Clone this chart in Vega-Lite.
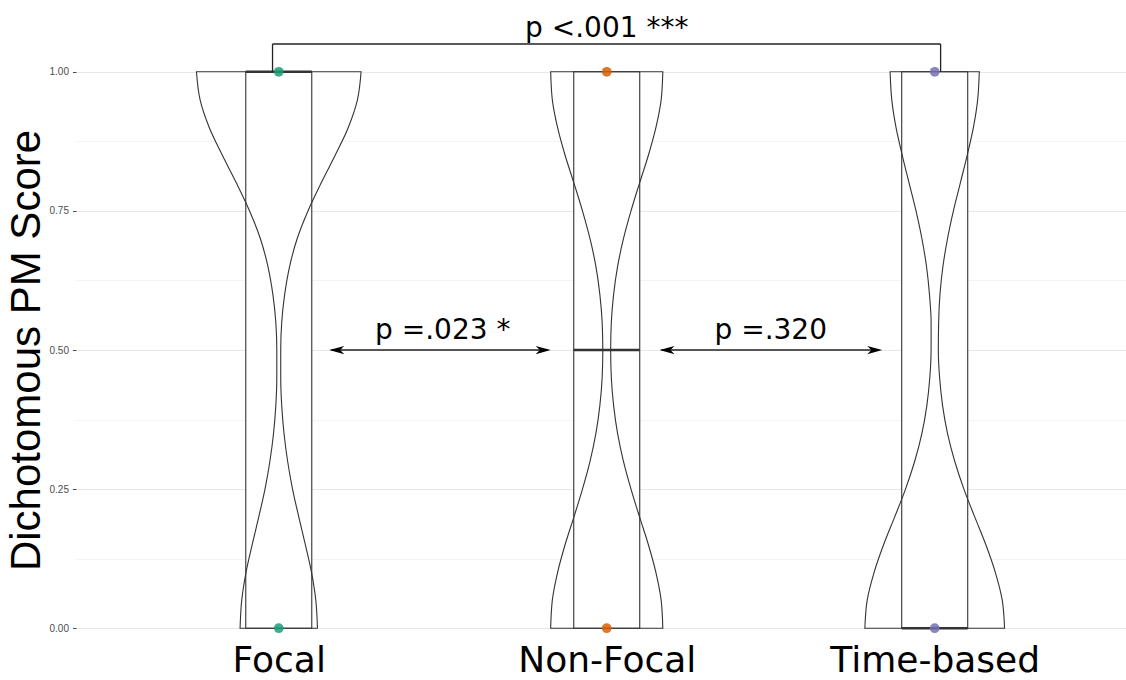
{
  "$schema": "https://vega.github.io/schema/vega-lite/v6.json",
  "width": 1050,
  "height": 612,
  "autosize": {"type": "none"},
  "padding": {"left": 76, "top": 44, "right": 0, "bottom": 24},
  "background": "white",
  "config": {"view": {"stroke": null}},
  "datasets": {
    "violin": [
      {"g": "Focal", "y": 0.00, "lo": 0.882, "hi": 1.118},
      {"g": "Focal", "y": 0.05, "lo": 0.887, "hi": 1.113},
      {"g": "Focal", "y": 0.10, "lo": 0.900, "hi": 1.100},
      {"g": "Focal", "y": 0.15, "lo": 0.919, "hi": 1.081},
      {"g": "Focal", "y": 0.20, "lo": 0.939, "hi": 1.061},
      {"g": "Focal", "y": 0.25, "lo": 0.958, "hi": 1.042},
      {"g": "Focal", "y": 0.30, "lo": 0.973, "hi": 1.027},
      {"g": "Focal", "y": 0.35, "lo": 0.984, "hi": 1.016},
      {"g": "Focal", "y": 0.40, "lo": 0.991, "hi": 1.009},
      {"g": "Focal", "y": 0.45, "lo": 0.994, "hi": 1.006},
      {"g": "Focal", "y": 0.50, "lo": 0.994, "hi": 1.006},
      {"g": "Focal", "y": 0.55, "lo": 0.991, "hi": 1.009},
      {"g": "Focal", "y": 0.60, "lo": 0.982, "hi": 1.018},
      {"g": "Focal", "y": 0.65, "lo": 0.967, "hi": 1.033},
      {"g": "Focal", "y": 0.70, "lo": 0.944, "hi": 1.056},
      {"g": "Focal", "y": 0.75, "lo": 0.911, "hi": 1.089},
      {"g": "Focal", "y": 0.80, "lo": 0.871, "hi": 1.129},
      {"g": "Focal", "y": 0.85, "lo": 0.828, "hi": 1.172},
      {"g": "Focal", "y": 0.90, "lo": 0.788, "hi": 1.212},
      {"g": "Focal", "y": 0.95, "lo": 0.760, "hi": 1.240},
      {"g": "Focal", "y": 1.00, "lo": 0.749, "hi": 1.251},
      {"g": "Non-Focal", "y": 0.00, "lo": 1.829, "hi": 2.171},
      {"g": "Non-Focal", "y": 0.05, "lo": 1.834, "hi": 2.166},
      {"g": "Non-Focal", "y": 0.10, "lo": 1.850, "hi": 2.150},
      {"g": "Non-Focal", "y": 0.15, "lo": 1.873, "hi": 2.127},
      {"g": "Non-Focal", "y": 0.20, "lo": 1.900, "hi": 2.100},
      {"g": "Non-Focal", "y": 0.25, "lo": 1.926, "hi": 2.074},
      {"g": "Non-Focal", "y": 0.30, "lo": 1.949, "hi": 2.051},
      {"g": "Non-Focal", "y": 0.35, "lo": 1.967, "hi": 2.033},
      {"g": "Non-Focal", "y": 0.40, "lo": 1.979, "hi": 2.021},
      {"g": "Non-Focal", "y": 0.45, "lo": 1.986, "hi": 2.014},
      {"g": "Non-Focal", "y": 0.50, "lo": 1.988, "hi": 2.012},
      {"g": "Non-Focal", "y": 0.55, "lo": 1.986, "hi": 2.014},
      {"g": "Non-Focal", "y": 0.60, "lo": 1.979, "hi": 2.021},
      {"g": "Non-Focal", "y": 0.65, "lo": 1.967, "hi": 2.033},
      {"g": "Non-Focal", "y": 0.70, "lo": 1.949, "hi": 2.051},
      {"g": "Non-Focal", "y": 0.75, "lo": 1.926, "hi": 2.074},
      {"g": "Non-Focal", "y": 0.80, "lo": 1.900, "hi": 2.100},
      {"g": "Non-Focal", "y": 0.85, "lo": 1.873, "hi": 2.127},
      {"g": "Non-Focal", "y": 0.90, "lo": 1.850, "hi": 2.150},
      {"g": "Non-Focal", "y": 0.95, "lo": 1.834, "hi": 2.166},
      {"g": "Non-Focal", "y": 1.00, "lo": 1.829, "hi": 2.171},
      {"g": "Time-based", "y": 0.00, "lo": 2.787, "hi": 3.213},
      {"g": "Time-based", "y": 0.05, "lo": 2.794, "hi": 3.206},
      {"g": "Time-based", "y": 0.10, "lo": 2.815, "hi": 3.185},
      {"g": "Time-based", "y": 0.15, "lo": 2.844, "hi": 3.156},
      {"g": "Time-based", "y": 0.20, "lo": 2.878, "hi": 3.122},
      {"g": "Time-based", "y": 0.25, "lo": 2.911, "hi": 3.089},
      {"g": "Time-based", "y": 0.30, "lo": 2.939, "hi": 3.061},
      {"g": "Time-based", "y": 0.35, "lo": 2.961, "hi": 3.039},
      {"g": "Time-based", "y": 0.40, "lo": 2.976, "hi": 3.024},
      {"g": "Time-based", "y": 0.45, "lo": 2.985, "hi": 3.015},
      {"g": "Time-based", "y": 0.50, "lo": 2.989, "hi": 3.011},
      {"g": "Time-based", "y": 0.55, "lo": 2.989, "hi": 3.012},
      {"g": "Time-based", "y": 0.60, "lo": 2.984, "hi": 3.016},
      {"g": "Time-based", "y": 0.65, "lo": 2.975, "hi": 3.025},
      {"g": "Time-based", "y": 0.70, "lo": 2.961, "hi": 3.039},
      {"g": "Time-based", "y": 0.75, "lo": 2.943, "hi": 3.057},
      {"g": "Time-based", "y": 0.80, "lo": 2.922, "hi": 3.078},
      {"g": "Time-based", "y": 0.85, "lo": 2.901, "hi": 3.099},
      {"g": "Time-based", "y": 0.90, "lo": 2.882, "hi": 3.118},
      {"g": "Time-based", "y": 0.95, "lo": 2.869, "hi": 3.131},
      {"g": "Time-based", "y": 1.00, "lo": 2.864, "hi": 3.136}
    ],
    "box": [
      {"g": "Focal", "pos": 1, "q1": 0, "q3": 1, "med": 1},
      {"g": "Non-Focal", "pos": 2, "q1": 0, "q3": 1, "med": 0.5},
      {"g": "Time-based", "pos": 3, "q1": 0, "q3": 1, "med": 0}
    ],
    "dots": [
      {"g": "Focal", "pos": 1, "score": 0},
      {"g": "Focal", "pos": 1, "score": 1},
      {"g": "Non-Focal", "pos": 2, "score": 0},
      {"g": "Non-Focal", "pos": 2, "score": 1},
      {"g": "Time-based", "pos": 3, "score": 0},
      {"g": "Time-based", "pos": 3, "score": 1}
    ],
    "rules": [
      {"x": 0.981, "x2": 3.018, "y": 1.05, "y2": 1.05},
      {"x": 0.981, "x2": 0.981, "y": 1.0, "y2": 1.05},
      {"x": 3.018, "x2": 3.018, "y": 1.0, "y2": 1.05},
      {"x": 1.16, "x2": 1.82, "y": 0.5, "y2": 0.5},
      {"x": 2.167, "x2": 2.83, "y": 0.5, "y2": 0.5}
    ],
    "heads": [
      {"x": 1.154, "y": 0.5, "dir": "L"},
      {"x": 1.829, "y": 0.5, "dir": "R"},
      {"x": 2.161, "y": 0.5, "dir": "L"},
      {"x": 2.84, "y": 0.5, "dir": "R"}
    ],
    "notes": [
      {"label": "p <.001 ***", "x": 2.0, "y": 1.062},
      {"label": "p =.023 *", "x": 1.5, "y": 0.519},
      {"label": "p =.320", "x": 2.5, "y": 0.519}
    ]
  },
  "layer": [
    {
      "data": {"name": "violin"},
      "mark": {"type": "area", "orient": "horizontal", "interpolate": "monotone", "fill": "white", "strokeWidth": 0},
      "encoding": {
        "y": {
          "field": "y", "type": "quantitative",
          "scale": {"domain": [-0.05, 1.05], "nice": false, "zero": false},
          "axis": {
            "title": "Dichotomous PM Score",
            "titleFont": "Liberation Sans", "titleFontSize": 42, "titleFontWeight": "normal",
            "titleColor": "black", "titlePadding": 1,
            "values": [0, 0.125, 0.25, 0.375, 0.5, 0.625, 0.75, 0.875, 1],
            "format": ".2f",
            "labelExpr": "(datum.value * 4) % 1 == 0 ? datum.label : ''",
            "labelFont": "Liberation Sans", "labelFontSize": 10, "labelColor": "#4d4d4d",
            "labelPadding": 4,
            "domain": false,
            "tickSize": 3.5, "tickColor": "#4d4d4d",
            "tickOpacity": {"condition": {"test": "(datum.value * 4) % 1 != 0", "value": 0}, "value": 1},
            "grid": true,
            "gridColor": {"condition": {"test": "(datum.value * 4) % 1 != 0", "value": "#f3f3f3"}, "value": "#e8e8e8"},
            "gridWidth": 1
          }
        },
        "x": {
          "field": "lo", "type": "quantitative",
          "scale": {"domain": [0.397, 3.568], "nice": false, "zero": false},
          "axis": {
            "title": null,
            "values": [1, 2, 3],
            "labelExpr": "datum.value == 1 ? 'Focal' : datum.value == 2 ? 'Non-Focal' : 'Time-based'",
            "labelFont": "DejaVu Sans", "labelFontSize": 36, "labelColor": "black",
            "labelBaseline": "alphabetic", "labelPadding": 15, "labelLimit": 0,
            "labelFlush": false, "labelOverlap": false,
            "ticks": false, "domain": false, "grid": false
          }
        },
        "x2": {"field": "hi"},
        "detail": {"field": "g"}
      }
    },
    {
      "data": {"name": "box"},
      "mark": {"type": "bar", "width": 66, "fill": "white", "stroke": "#333333", "strokeWidth": 1.1},
      "encoding": {
        "x": {"field": "pos", "type": "quantitative"},
        "y": {"field": "q1", "type": "quantitative"},
        "y2": {"field": "q3"}
      }
    },
    {
      "data": {"name": "violin"},
      "mark": {"type": "area", "orient": "horizontal", "interpolate": "monotone", "fillOpacity": 0, "stroke": "#333333", "strokeWidth": 1.1},
      "encoding": {
        "y": {"field": "y", "type": "quantitative"},
        "x": {"field": "lo", "type": "quantitative"},
        "x2": {"field": "hi"},
        "detail": {"field": "g"}
      }
    },
    {
      "data": {"name": "box"},
      "mark": {"type": "tick", "orient": "horizontal", "size": 66, "thickness": 2.4, "color": "#333333", "opacity": 1},
      "encoding": {
        "x": {"field": "pos", "type": "quantitative"},
        "y": {"field": "med", "type": "quantitative"}
      }
    },
    {
      "data": {"name": "dots"},
      "mark": {"type": "circle", "size": 95, "opacity": 0.85},
      "encoding": {
        "x": {"field": "pos", "type": "quantitative"},
        "y": {"field": "score", "type": "quantitative"},
        "color": {
          "field": "g", "type": "nominal",
          "scale": {"domain": ["Focal", "Non-Focal", "Time-based"], "range": ["#1b9e77", "#d95f02", "#7570b3"]},
          "legend": null
        }
      }
    },
    {
      "data": {"name": "rules"},
      "mark": {"type": "rule", "color": "#222222", "strokeWidth": 1.3},
      "encoding": {
        "x": {"field": "x", "type": "quantitative"},
        "x2": {"field": "x2"},
        "y": {"field": "y", "type": "quantitative"},
        "y2": {"field": "y2"}
      }
    },
    {
      "data": {"name": "heads"},
      "mark": {"type": "point", "filled": true, "size": 225, "color": "black", "opacity": 1},
      "encoding": {
        "x": {"field": "x", "type": "quantitative"},
        "y": {"field": "y", "type": "quantitative"},
        "shape": {
          "field": "dir", "type": "nominal",
          "scale": {"domain": ["L", "R"], "range": ["M 0 0 L 2 -0.55 L 1.45 0 L 2 0.55 Z", "M 0 0 L -2 -0.55 L -1.45 0 L -2 0.55 Z"]},
          "legend": null
        }
      }
    },
    {
      "data": {"name": "notes"},
      "mark": {"type": "text", "font": "DejaVu Sans", "fontSize": 28, "color": "black", "align": "center", "baseline": "alphabetic"},
      "encoding": {
        "x": {"field": "x", "type": "quantitative"},
        "y": {"field": "y", "type": "quantitative"},
        "text": {"field": "label"}
      }
    }
  ]
}
